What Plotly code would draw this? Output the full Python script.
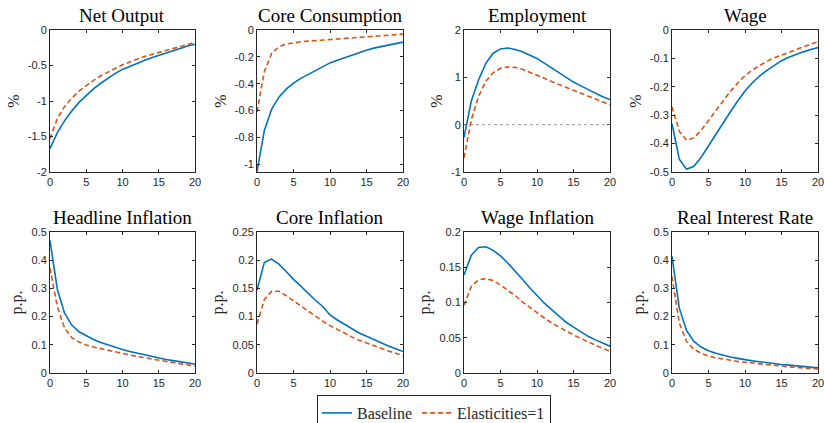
import plotly.graph_objects as go

# Horizon (quarters)
t = list(range(21))

titles = ["Net Output", "Core Consumption", "Employment", "Wage",
          "Headline Inflation", "Core Inflation", "Wage Inflation", "Real Interest Rate"]
units = ["%", "%", "%", "%", "p.p.", "p.p.", "p.p.", "p.p."]

# Impulse responses: baseline calibration
net_output_base = [-1.67, -1.45, -1.28, -1.14, -1.02, -0.92, -0.83, -0.75, -0.68, -0.61, -0.555,
                   -0.51, -0.47, -0.43, -0.39, -0.355, -0.32, -0.29, -0.255, -0.225, -0.20]
core_cons_base = [-1.055, -0.75, -0.59, -0.50, -0.44, -0.395, -0.36, -0.33, -0.30, -0.27, -0.245,
                  -0.225, -0.205, -0.185, -0.165, -0.15, -0.135, -0.125, -0.11, -0.10, -0.09]
employment_base = [-0.27, 0.50, 0.95, 1.30, 1.51, 1.60, 1.62, 1.59, 1.54, 1.47, 1.40,
                   1.30, 1.20, 1.09, 0.99, 0.90, 0.82, 0.74, 0.66, 0.59, 0.53]
wage_base = [-0.33, -0.455, -0.49, -0.48, -0.448, -0.408, -0.366, -0.325, -0.288, -0.25, -0.215,
             -0.186, -0.162, -0.142, -0.124, -0.108, -0.096, -0.086, -0.077, -0.069, -0.062]
headline_infl_base = [0.47, 0.298, 0.213, 0.170, 0.146, 0.131, 0.119, 0.108, 0.099, 0.091, 0.083,
                      0.076, 0.070, 0.064, 0.058, 0.053, 0.048, 0.044, 0.040, 0.036, 0.032]
core_infl_base = [0.147, 0.196, 0.202, 0.193, 0.180, 0.166, 0.154, 0.141, 0.129, 0.118, 0.103,
                  0.094, 0.086, 0.078, 0.071, 0.065, 0.059, 0.053, 0.048, 0.043, 0.038]
wage_infl_base = [0.139, 0.167, 0.178, 0.179, 0.174, 0.166, 0.156, 0.145, 0.133, 0.121, 0.110,
                  0.099, 0.090, 0.081, 0.072, 0.065, 0.058, 0.052, 0.047, 0.042, 0.038]
real_rate_base = [0.414, 0.23, 0.15, 0.112, 0.092, 0.079, 0.070, 0.063, 0.057, 0.052, 0.047,
                  0.043, 0.040, 0.036, 0.033, 0.030, 0.028, 0.025, 0.023, 0.020, 0.018]

# Impulse responses: unit elasticities
net_output_unit = [-1.53, -1.25, -1.08, -0.96, -0.86, -0.78, -0.71, -0.645, -0.59, -0.535, -0.49,
                   -0.45, -0.41, -0.375, -0.345, -0.315, -0.285, -0.26, -0.235, -0.205, -0.175]
core_cons_unit = [-0.61, -0.31, -0.175, -0.125, -0.105, -0.095, -0.088, -0.083, -0.079, -0.075, -0.071,
                  -0.067, -0.063, -0.059, -0.055, -0.051, -0.047, -0.043, -0.039, -0.035, -0.031]
employment_unit = [-0.70, 0.10, 0.60, 0.92, 1.10, 1.19, 1.22, 1.21, 1.17, 1.11, 1.04,
                   0.98, 0.91, 0.85, 0.78, 0.72, 0.66, 0.60, 0.54, 0.48, 0.42]
wage_unit = [-0.27, -0.357, -0.388, -0.38, -0.353, -0.318, -0.282, -0.248, -0.216, -0.187, -0.161,
             -0.141, -0.124, -0.110, -0.098, -0.088, -0.078, -0.068, -0.059, -0.050, -0.042]
headline_infl_unit = [0.372, 0.236, 0.160, 0.125, 0.110, 0.099, 0.092, 0.086, 0.080, 0.075, 0.069,
                      0.064, 0.059, 0.054, 0.050, 0.045, 0.041, 0.037, 0.033, 0.029, 0.025]
core_infl_unit = [0.087, 0.130, 0.145, 0.145, 0.137, 0.128, 0.118, 0.109, 0.100, 0.092, 0.084,
                  0.077, 0.070, 0.064, 0.058, 0.053, 0.048, 0.043, 0.039, 0.035, 0.031]
wage_infl_unit = [0.096, 0.123, 0.132, 0.134, 0.131, 0.125, 0.117, 0.110, 0.101, 0.093, 0.085,
                  0.078, 0.071, 0.065, 0.059, 0.054, 0.049, 0.044, 0.040, 0.035, 0.031]
real_rate_unit = [0.343, 0.177, 0.112, 0.084, 0.070, 0.060, 0.054, 0.049, 0.045, 0.041, 0.038,
                  0.035, 0.032, 0.029, 0.026, 0.024, 0.022, 0.020, 0.018, 0.016, 0.014]

baseline = [net_output_base, core_cons_base, employment_base, wage_base,
            headline_infl_base, core_infl_base, wage_infl_base, real_rate_base]
unit_elast = [net_output_unit, core_cons_unit, employment_unit, wage_unit,
              headline_infl_unit, core_infl_unit, wage_infl_unit, real_rate_unit]

# Axis ticks
x_ticks = [0, 5, 10, 15, 20]
y_tickvals = [
    [0, -0.5, -1, -1.5, -2],
    [0, -0.2, -0.4, -0.6, -0.8, -1],
    [-1, 0, 1, 2],
    [0, -0.1, -0.2, -0.3, -0.4, -0.5],
    [0, 0.1, 0.2, 0.3, 0.4, 0.5],
    [0, 0.05, 0.1, 0.15, 0.2, 0.25],
    [0, 0.05, 0.1, 0.15, 0.2],
    [0, 0.1, 0.2, 0.3, 0.4, 0.5],
]
y_ticktext = [
    ["0", "-0.5", "-1", "-1.5", "-2"],
    ["0", "-0.2", "-0.4", "-0.6", "-0.8", "-1"],
    ["-1", "0", "1", "2"],
    ["0", "-0.1", "-0.2", "-0.3", "-0.4", "-0.5"],
    ["0", "0.1", "0.2", "0.3", "0.4", "0.5"],
    ["0", "0.05", "0.1", "0.15", "0.2", "0.25"],
    ["0", "0.05", "0.1", "0.15", "0.2"],
    ["0", "0.1", "0.2", "0.3", "0.4", "0.5"],
]
y_ranges = [[-2, 0], [-1.057, 0], [-1, 2], [-0.5, 0],
            [0, 0.5], [0, 0.25], [0, 0.2], [0, 0.5]]

W, H = 824, 423
col_px = [(50, 195), (257, 403), (464, 610), (672, 818)]
row_px = [(30, 172), (232, 373)]

BLUE = "#0072BD"
ORANGE = "#D95319"
AX = "#262626"
SERIF = "Liberation Serif, Times New Roman, serif"
SANS = "Liberation Sans, Arial, sans-serif"

fig = go.Figure()
layout = {}
for i in range(8):
    r, c = divmod(i, 4)
    n = "" if i == 0 else str(i + 1)
    xa, ya = "x" + n, "y" + n
    x0, x1 = col_px[c]
    y0, y1 = row_px[r]
    fig.add_trace(go.Scatter(x=t, y=baseline[i], mode="lines", name="Baseline",
                             line=dict(color=BLUE, width=1.6),
                             xaxis=xa, yaxis=ya, showlegend=(i == 0), legendgroup="b"))
    fig.add_trace(go.Scatter(x=t, y=unit_elast[i], mode="lines", name="Elasticities=1",
                             line=dict(color=ORANGE, width=1.6, dash="5px,3px"),
                             xaxis=xa, yaxis=ya, showlegend=(i == 0), legendgroup="u"))
    common = dict(showline=True, linecolor=AX, linewidth=1, mirror="ticks",
                  ticks="inside", ticklen=3, tickcolor=AX, showgrid=False, zeroline=False,
                  ticklabeloverflow="allow",
                  tickfont=dict(family=SANS, size=11, color=AX))
    layout["xaxis" + n] = dict(domain=[x0 / W, x1 / W], range=[0, 20], anchor=ya,
                               tickvals=x_ticks, ticktext=[str(v) for v in x_ticks], **common)
    layout["yaxis" + n] = dict(domain=[1 - y1 / H, 1 - y0 / H], range=y_ranges[i], anchor=xa,
                               tickvals=y_tickvals[i], ticktext=y_ticktext[i],
                               title=dict(text=units[i], font=dict(family=SERIF, size=16, color=AX),
                                          standoff=4),
                               **common)

# Panel titles
annotations = []
for i in range(8):
    r, c = divmod(i, 4)
    x0, x1 = col_px[c]
    y0, _ = row_px[r]
    annotations.append(dict(text=titles[i], x=(x0 + x1) / 2 / W, y=1 - (y0 - 2) / H,
                            xref="paper", yref="paper", xanchor="center", yanchor="bottom",
                            showarrow=False, font=dict(family=SERIF, size=19, color="black")))

# Zero reference line on the employment panel
shapes = [dict(type="line", xref="x3", yref="y3", x0=0, x1=20, y0=0, y1=0,
               line=dict(color="#808080", width=0.8, dash="dot"))]

fig.update_layout(
    **layout,
    annotations=annotations,
    shapes=shapes,
    width=W, height=H,
    margin=dict(l=0, r=0, t=0, b=0, autoexpand=False),
    paper_bgcolor="white", plot_bgcolor="white",
    legend=dict(orientation="h", x=434 / W, xanchor="center", y=1 - 395 / H, yanchor="top",
                bordercolor=AX, borderwidth=1, bgcolor="white",
                font=dict(family=SERIF, size=16, color=AX), itemwidth=30,
                tracegroupgap=0),
)

fig.write_html("out.html")
